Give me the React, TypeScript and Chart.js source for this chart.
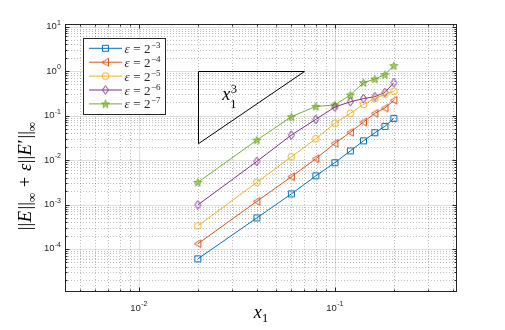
import React, { useEffect, useRef } from 'react';
import { Chart, registerables } from 'chart.js';

Chart.register(...registerables);

const xValues = [0.02, 0.04, 0.06, 0.08, 0.1, 0.12, 0.14, 0.16, 0.18, 0.2];
const errEps3 = [6.0e-5, 5.0e-4, 1.73e-3, 4.4e-3, 8.7e-3, 0.016, 0.027, 0.041, 0.057, 0.0865];
const errEps4 = [1.31e-4, 1.18e-3, 4.2e-3, 0.0107, 0.0237, 0.042, 0.0714, 0.112, 0.147, 0.22];
const errEps5 = [3.3e-4, 3.15e-3, 0.0118, 0.03, 0.067, 0.112, 0.178, 0.24, 0.3, 0.35];
const errEps6 = [9.8e-4, 9.3e-3, 0.0364, 0.082, 0.155, 0.204, 0.24, 0.265, 0.33, 0.546];
const errEps7 = [3.15e-3, 0.028, 0.094, 0.16, 0.172, 0.29, 0.546, 0.66, 0.83, 1.32];
const seriesValues = [errEps3, errEps4, errEps5, errEps6, errEps7];
const seriesExponents = ['\u22123', '\u22124', '\u22125', '\u22126', '\u22127'];
const seriesColors = ['#0072BD', '#D95319', '#EDB120', '#7E2F8E', '#77AC30'];
const seriesMarkers = ['square', 'triangleLeft', 'circle', 'diamond', 'pentagram'];
const xTickExponents = [-2, -1];
const yTickExponents = [-4, -3, -2, -1, 0, 1];
const xLimits = [0.0042, 0.42];
const yLimits = [1.08e-5, 11.4];
const slopeTriangleX = [0.02, 0.07];
const slopeTriangleTop = 1;
const slopeOrder = 3;

const SERIF = '"Liberation Serif", "DejaVu Serif", serif';
const SANS = '"Liberation Sans", Arial, sans-serif';
const AXIS_COLOR = '#262626';

function makeMarker(kind: string, color: string): HTMLCanvasElement {
  const c = document.createElement('canvas');
  c.width = 13;
  c.height = 13;
  const g = c.getContext('2d')!;
  g.strokeStyle = color;
  g.lineWidth = 1;
  const m = 6.5;
  g.beginPath();
  if (kind === 'square') {
    g.rect(m - 3, m - 3, 6, 6);
  } else if (kind === 'triangleLeft') {
    g.moveTo(m - 3.6, m);
    g.lineTo(m + 3, m - 3.8);
    g.lineTo(m + 3, m + 3.8);
    g.closePath();
  } else if (kind === 'circle') {
    g.arc(m, m, 3.4, 0, Math.PI * 2);
  } else if (kind === 'diamond') {
    g.moveTo(m, m - 4.3);
    g.lineTo(m + 3, m);
    g.lineTo(m, m + 4.3);
    g.lineTo(m - 3, m);
    g.closePath();
  } else {
    for (let k = 0; k < 10; k++) {
      const r = k % 2 ? 1.7 : 4.2;
      const a = -Math.PI / 2 + (k * Math.PI) / 5;
      const px = m + r * Math.cos(a);
      const py = m + 0.4 + r * Math.sin(a);
      if (k === 0) g.moveTo(px, py);
      else g.lineTo(px, py);
    }
    g.closePath();
    g.fillStyle = color;
    g.globalAlpha = 0.55;
    g.fill();
    g.globalAlpha = 1;
  }
  g.stroke();
  return c;
}

type Run = { t: string; font: string; dy?: number; dx?: number };

function runsWidth(ctx: CanvasRenderingContext2D, runs: Run[]) {
  let w = 0;
  for (const r of runs) {
    ctx.font = r.font;
    w += ctx.measureText(r.t).width + (r.dx || 0);
  }
  return w;
}

function drawRuns(ctx: CanvasRenderingContext2D, runs: Run[], x: number, y: number) {
  let cx = x;
  for (const r of runs) {
    ctx.font = r.font;
    cx += r.dx || 0;
    ctx.fillText(r.t, cx, y + (r.dy || 0));
    cx += ctx.measureText(r.t).width;
  }
}

function forEachMinor(lim: number[], fn: (v: number) => void) {
  const d0 = Math.floor(Math.log10(lim[0]));
  const d1 = Math.ceil(Math.log10(lim[1]));
  for (let d = d0; d <= d1; d++) {
    for (let m = 2; m <= 9; m++) {
      const v = m * Math.pow(10, d);
      if (v >= lim[0] && v <= lim[1]) fn(v);
    }
  }
}

function forEachMajor(lim: number[], fn: (v: number) => void) {
  const d0 = Math.floor(Math.log10(lim[0]));
  const d1 = Math.ceil(Math.log10(lim[1]));
  for (let d = d0; d <= d1; d++) {
    const v = Math.pow(10, d);
    if (v >= lim[0] && v <= lim[1]) fn(v);
  }
}

export default function App() {
  const ref = useRef<HTMLCanvasElement | null>(null);

  useEffect(() => {
    const canvas = ref.current;
    if (!canvas) return;
    const markers = seriesMarkers.map((k, i) => makeMarker(k, seriesColors[i]));

    const plugin = {
      id: 'matlabAxes',
      beforeDatasetsDraw(chart: any) {
        const { ctx, chartArea, scales } = chart;
        const { left, right, top, bottom } = chartArea;
        const xs = scales.x;
        const ys = scales.y;
        ctx.save();
        const line = (a: number, b: number, c: number, d: number) => {
          ctx.beginPath();
          ctx.moveTo(a, b);
          ctx.lineTo(c, d);
          ctx.stroke();
        };
        ctx.lineWidth = 1;
        ctx.strokeStyle = 'rgba(38,38,38,0.3)';
        ctx.setLineDash([1, 2]);
        forEachMinor(xLimits, (v) => {
          const p = Math.round(xs.getPixelForValue(v)) + 0.5;
          line(p, top, p, bottom);
        });
        forEachMinor(yLimits, (v) => {
          const p = Math.round(ys.getPixelForValue(v)) + 0.5;
          line(left, p, right, p);
        });
        ctx.setLineDash([]);
        ctx.strokeStyle = 'rgba(38,38,38,0.15)';
        forEachMajor(xLimits, (v) => {
          const p = Math.round(xs.getPixelForValue(v)) + 0.5;
          line(p, top, p, bottom);
        });
        forEachMajor(yLimits, (v) => {
          const p = Math.round(ys.getPixelForValue(v)) + 0.5;
          line(left, p, right, p);
        });
        ctx.restore();
      },
      afterDatasetsDraw(chart: any) {
        const { ctx, chartArea, scales } = chart;
        const { left, right, top, bottom } = chartArea;
        const xs = scales.x;
        const ys = scales.y;
        ctx.save();
        const line = (a: number, b: number, c: number, d: number) => {
          ctx.beginPath();
          ctx.moveTo(a, b);
          ctx.lineTo(c, d);
          ctx.stroke();
        };

        // slope triangle
        const tx0 = xs.getPixelForValue(slopeTriangleX[0]);
        const tx1 = xs.getPixelForValue(slopeTriangleX[1]);
        const tyTop = ys.getPixelForValue(slopeTriangleTop);
        const tyBot = ys.getPixelForValue(
          slopeTriangleTop * Math.pow(slopeTriangleX[0] / slopeTriangleX[1], slopeOrder)
        );
        ctx.strokeStyle = '#000';
        ctx.lineWidth = 1;
        ctx.beginPath();
        ctx.moveTo(Math.round(tx0) + 0.5, Math.round(tyTop) + 0.5);
        ctx.lineTo(tx1, Math.round(tyTop) + 0.5);
        ctx.lineTo(Math.round(tx0) + 0.5, tyBot);
        ctx.closePath();
        ctx.stroke();
        ctx.fillStyle = '#000';
        ctx.textAlign = 'left';
        ctx.textBaseline = 'alphabetic';
        ctx.font = `italic 18px ${SERIF}`;
        const lx = tx0 + 24.5;
        const lb = tyTop + 28.5;
        ctx.fillText('x', lx, lb);
        const xw = ctx.measureText('x').width;
        ctx.font = `12.5px ${SERIF}`;
        ctx.fillText(String(slopeOrder), lx + xw + 0.5, lb - 7);
        ctx.fillText('1', lx + xw, lb + 8);

        // box
        ctx.strokeStyle = AXIS_COLOR;
        ctx.lineWidth = 1;
        const L = Math.round(left) + 0.5;
        const R = Math.round(right) - 0.5;
        const T = Math.round(top) + 0.5;
        const B = Math.round(bottom) - 0.5;
        ctx.strokeRect(L, T, R - L, B - T);

        // ticks
        const majLen = 4;
        const minLen = 2;
        forEachMinor(xLimits, (v) => {
          const p = Math.round(xs.getPixelForValue(v)) + 0.5;
          line(p, B, p, B - minLen);
          line(p, T, p, T + minLen);
        });
        forEachMajor(xLimits, (v) => {
          const p = Math.round(xs.getPixelForValue(v)) + 0.5;
          line(p, B, p, B - majLen);
          line(p, T, p, T + majLen);
        });
        forEachMinor(yLimits, (v) => {
          const p = Math.round(ys.getPixelForValue(v)) + 0.5;
          line(L, p, L + minLen, p);
          line(R, p, R - minLen, p);
        });
        forEachMajor(yLimits, (v) => {
          const p = Math.round(ys.getPixelForValue(v)) + 0.5;
          line(L, p, L + majLen, p);
          line(R, p, R - majLen, p);
        });

        // tick labels
        ctx.fillStyle = AXIS_COLOR;
        const base = `9.5px ${SANS}`;
        const sup = `7px ${SANS}`;
        const tickRuns = (e: number): Run[] => [
          { t: '10', font: base },
          { t: e < 0 ? '-' + Math.abs(e) : String(e), font: sup, dy: -4.5, dx: 0.3 },
        ];
        for (const e of xTickExponents) {
          const p = xs.getPixelForValue(Math.pow(10, e));
          const runs = tickRuns(e);
          const w = runsWidth(ctx, runs);
          drawRuns(ctx, runs, p - w / 2, bottom + 18.5);
        }
        for (const e of yTickExponents) {
          const p = ys.getPixelForValue(Math.pow(10, e));
          const runs = tickRuns(e);
          const w = runsWidth(ctx, runs);
          drawRuns(ctx, runs, left - 4 - w, p + 2.5);
        }

        // x label
        ctx.fillStyle = '#000';
        const xl: Run[] = [
          { t: 'x', font: `italic 18px ${SERIF}` },
          { t: '1', font: `12.5px ${SERIF}`, dy: 4, dx: 0.5 },
        ];
        const xlw = runsWidth(ctx, xl);
        drawRuns(ctx, xl, (left + right) / 2 - xlw / 2, bottom + 25.5);

        // y label
        const F = 18.5;
        const n = `${F}px ${SERIF}`;
        const it = `italic ${F}px ${SERIF}`;
        const sb = `13px ${SERIF}`;
        const yl: Run[] = [
          { t: '||', font: n },
          { t: 'E', font: it, dx: 0.5 },
          { t: '||', font: n, dx: 1.5 },
          { t: '\u221E', font: sb, dy: 4.5 },
          { t: ' + ', font: n, dx: 1 },
          { t: '\u03B5', font: it, dx: 1 },
          { t: '||', font: n, dx: 0.5 },
          { t: 'E', font: it, dx: 0.5 },
          { t: '\u2032', font: n, dx: 0.5 },
          { t: '||', font: n, dx: 1 },
          { t: '\u221E', font: sb, dy: 4.5 },
        ];
        const ylw = runsWidth(ctx, yl);
        ctx.save();
        ctx.translate(31, 176);
        ctx.rotate(-Math.PI / 2);
        drawRuns(ctx, yl, -ylw / 2, 0);
        ctx.restore();

        // legend
        const lgX = 83.5;
        const lgY = 38.5;
        const lgW = 82;
        const lgH = 76;
        ctx.fillStyle = '#fff';
        ctx.fillRect(lgX, lgY, lgW, lgH);
        ctx.strokeStyle = AXIS_COLOR;
        ctx.lineWidth = 1;
        ctx.strokeRect(lgX, lgY, lgW, lgH);
        for (let i = 0; i < seriesColors.length; i++) {
          const cy = 48.3 + i * 13.9;
          ctx.strokeStyle = seriesColors[i];
          ctx.lineWidth = 1;
          line(89, cy, 122, cy);
          const mk = markers[i];
          ctx.drawImage(mk, 105.5 - mk.width / 2, cy - mk.height / 2);
          ctx.fillStyle = AXIS_COLOR;
          const runs: Run[] = [
            { t: '\u03B5', font: `italic 13px ${SERIF}` },
            { t: ' = ', font: `13px ${SERIF}`, dx: 0.5 },
            { t: '2', font: `13px ${SERIF}` },
            { t: seriesExponents[i], font: `9px ${SERIF}`, dy: -5, dx: 0.5 },
          ];
          drawRuns(ctx, runs, 124.5, cy + 4.5);
        }
        ctx.restore();
      },
    };

    const chart = new Chart(canvas, {
      type: 'line',
      data: {
        datasets: seriesValues.map((vals, i) => ({
          label: 'eps' + seriesExponents[i],
          data: xValues.map((x, j) => ({ x, y: vals[j] })),
          borderColor: seriesColors[i],
          backgroundColor: 'transparent',
          borderWidth: 1,
          pointStyle: markers[i] as any,
          pointRadius: 4,
          pointHoverRadius: 4,
          tension: 0,
          fill: false,
        })),
      },
      options: {
        animation: false,
        responsive: false,
        devicePixelRatio: 1,
        events: [],
        layout: { padding: { left: 65, top: 24, right: 48, bottom: 38 } },
        scales: {
          x: { type: 'logarithmic', min: xLimits[0], max: xLimits[1], display: false },
          y: { type: 'logarithmic', min: yLimits[0], max: yLimits[1], display: false },
        },
        plugins: { legend: { display: false }, tooltip: { enabled: false } },
      },
      plugins: [plugin],
    } as any);

    return () => chart.destroy();
  }, []);

  return (
    <div style={{ position: 'fixed', left: 0, top: 0, width: 505, height: 330, background: '#fff' }}>
      <canvas ref={ref} width={505} height={330} style={{ display: 'block', width: 505, height: 330 }} />
    </div>
  );
}
